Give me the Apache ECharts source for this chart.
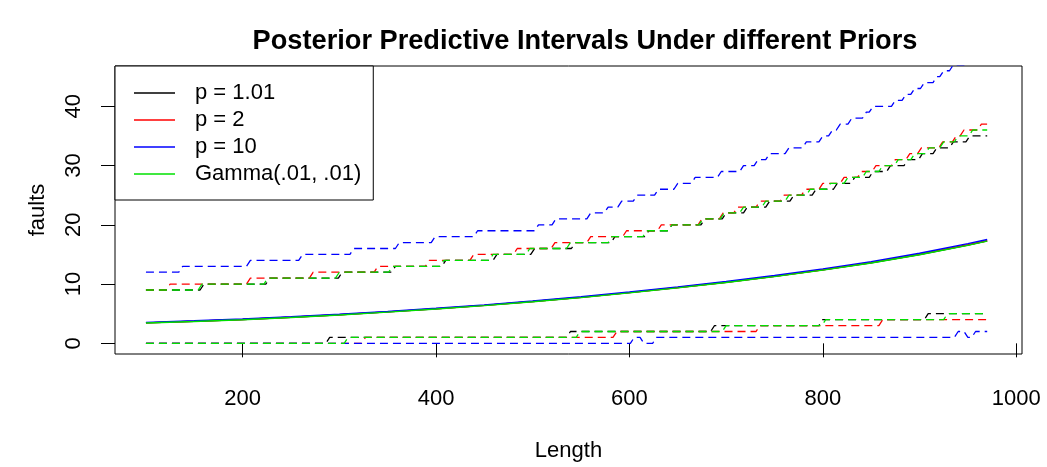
<!DOCTYPE html>
<html>
<head>
<meta charset="utf-8">
<script src="https://cdn.jsdelivr.net/npm/echarts@6/dist/echarts.min.js"></script>
<style>html,body{margin:0;padding:0;background:#fff;}#c{width:1047px;height:467px;}</style>
</head>
<body>
<div id="c"></div>
<script>
// ---- data ----
const lengthRange = [100, 970];
const xTicks = [200, 400, 600, 800, 1000];
const yTicks = [0, 10, 20, 30, 40];
const legendNames = ['p = 1.01', 'p = 2', 'p = 10', 'Gamma(.01, .01)'];

// posterior predictive means (solid lines)
const meanX     = [100, 150, 200, 250, 300, 350, 400, 450, 500, 550, 600, 650, 700, 750, 800, 850, 900, 950, 970];
const meanP101  = [3.45, 3.72, 4.02, 4.40, 4.82, 5.30, 5.82, 6.40, 7.05, 7.75, 8.55, 9.40, 10.30, 11.30, 12.40, 13.60, 15.00, 16.60, 17.30];
const meanP2    = [3.46, 3.73, 4.03, 4.41, 4.83, 5.31, 5.83, 6.41, 7.06, 7.76, 8.56, 9.41, 10.31, 11.31, 12.41, 13.61, 15.01, 16.61, 17.31];
const meanP10   = [3.53, 3.80, 4.10, 4.48, 4.90, 5.38, 5.91, 6.49, 7.14, 7.85, 8.66, 9.52, 10.43, 11.44, 12.56, 13.78, 15.20, 16.82, 17.52];
const meanGamma = [3.42, 3.69, 3.99, 4.37, 4.79, 5.27, 5.79, 6.37, 7.01, 7.71, 8.51, 9.36, 10.26, 11.26, 12.35, 13.55, 14.95, 16.54, 17.24];

// interval bounds: [length where the level starts, level]
const lowerP101  = [[100,0],[290,1],[539,2],[688,3],[800,4],[909,5]];
const upperP101  = [[100,9],[160,10],[228,11],[303,12],[358,13],[410,14],[463,15],[502,16],[544,17],[585,18],[620,19],[644,20],[678,21],[700,22],[722,23],[745,24],[770,25],[793,26],[815,27],[833,28],[852,29],[870,30],[888,31],[903,32],[918,33],[935,34],[952,35]];
const lowerP2    = [[100,0],[327,1],[587,2],[735,3],[862,4]];
const upperP2    = [[100,9],[125,10],[208,11],[273,12],[340,13],[393,14],[439,15],[484,16],[523,17],[560,18],[597,19],[633,20],[675,21],[697,22],[712,23],[735,24],[760,25],[782,26],[800,27],[822,28],[840,29],[855,30],[875,31],[890,32],[902,33],[924,34],[938,35],[946,36],[964,37]];
const lowerP10   = [[100,0],[605,1],[615,0],[628,1],[940,2],[950,1],[958,2]];
const upperP10   = [[100,12],[138,13],[208,14],[262,15],[315,16],[362,17],[399,18],[443,19],[506,20],[524,21],[560,22],[578,23],[592,24],[608,25],[630,26],[650,27],[668,28],[695,29],[718,30],[733,31],[745,32],[765,33],[783,34],[800,35],[810,36],[818,37],[830,38],[845,39],[852,40],[875,41],[886,42],[895,43],[905,44],[918,45],[925,46],[935,47],[950,48],[962,49]];
const lowerGamma = [[100,0],[309,1],[549,2],[700,3],[803,4],[929,5]];
const upperGamma = [[100,9],[158,10],[226,11],[300,12],[355,13],[408,14],[459,15],[497,16],[539,17],[582,18],[618,19],[644,20],[676,21],[698,22],[718,23],[741,24],[765,25],[787,26],[808,27],[826,28],[845,29],[862,30],[878,31],[895,32],[910,33],[925,34],[940,35],[955,36]];

const colors = ['#000000', '#FF0000', '#0000FF', '#00E000'];

// ---- build series ----
function stepPoints(changes) {
  const pts = [];
  for (let i = 0; i < changes.length; i++) {
    const x = changes[i][0], lv = changes[i][1];
    const xe = i + 1 < changes.length ? changes[i + 1][0] - 4 : lengthRange[1];
    pts.push([x, lv]);
    pts.push([xe, lv]);
  }
  return pts;
}
const means = [meanP101, meanP2, meanP10, meanGamma];
const lowers = [lowerP101, lowerP2, lowerP10, lowerGamma];
const uppers = [upperP101, upperP2, upperP10, upperGamma];
const series = [];
for (let k = 0; k < 4; k++) {
  series.push({
    name: legendNames[k], type: 'line', symbol: 'none', silent: true, animation: false,
    data: meanX.map((x, i) => [x, means[k][i]]),
    lineStyle: { color: colors[k], width: 1.4 }, itemStyle: { color: colors[k] }, z: 2 + k
  });
  [lowers[k], uppers[k]].forEach((b, j) => series.push({
    name: legendNames[k] + (j ? ' upper' : ' lower'), type: 'line', symbol: 'none', silent: true, animation: false,
    data: stepPoints(b),
    lineStyle: { color: colors[k], width: 1.3, type: [8, 5] }, itemStyle: { color: colors[k] }, z: 2 + k
  }));
}

const chart = echarts.init(document.getElementById('c'), null, { renderer: 'canvas', width: 1047, height: 467 });
chart.setOption({
  backgroundColor: '#ffffff',
  animation: false,
  textStyle: { fontFamily: 'Liberation Sans', color: '#000' },
  title: {
    text: 'Posterior Predictive Intervals Under different Priors',
    left: 580, top: 23, textAlign: 'center',
    textStyle: { fontFamily: 'Liberation Sans', fontWeight: 'bold', fontSize: 27.2, color: '#000' }
  },
  grid: { left: 115, right: 25, top: 66, bottom: 111, show: true, borderColor: '#000', borderWidth: 1, backgroundColor: 'transparent' },
  legend: {
    data: legendNames, orient: 'vertical', left: 115, top: 66, icon: 'rect',
    backgroundColor: '#ffffff', borderColor: '#000', borderWidth: 1, borderRadius: 0,
    padding: [16, 12, 15, 19], itemWidth: 41, itemHeight: 1.5, itemGap: 5,
    selectedMode: false,
    textStyle: { fontFamily: 'Liberation Sans', fontSize: 22, color: '#000', padding: [0, 0, 0, 15] }
  },
  xAxis: {
    type: 'value', min: 68, max: 1006, name: 'Length', nameLocation: 'middle', nameGap: 86,
    nameTextStyle: { fontFamily: 'Liberation Sans', fontSize: 22, color: '#000' },
    axisLine: { show: false }, splitLine: { show: false },
    axisTick: { show: true, length: 14, customValues: xTicks, lineStyle: { color: '#000', width: 1 } },
    axisLabel: { customValues: xTicks, margin: 34, fontSize: 22, color: '#000', fontFamily: 'Liberation Sans', formatter: v => String(v) }
  },
  yAxis: {
    type: 'value', min: -1.8, max: 46.8, name: 'faults', nameLocation: 'middle', nameGap: 66, nameRotate: 90,
    nameTextStyle: { fontFamily: 'Liberation Sans', fontSize: 22, color: '#000' },
    axisLine: { show: false }, splitLine: { show: false },
    axisTick: { show: true, length: 14, customValues: yTicks, lineStyle: { color: '#000', width: 1 } },
    axisLabel: { customValues: yTicks, rotate: 90, margin: 30, fontSize: 22, color: '#000', fontFamily: 'Liberation Sans' }
  },
  series: series
});
</script>
</body>
</html>
